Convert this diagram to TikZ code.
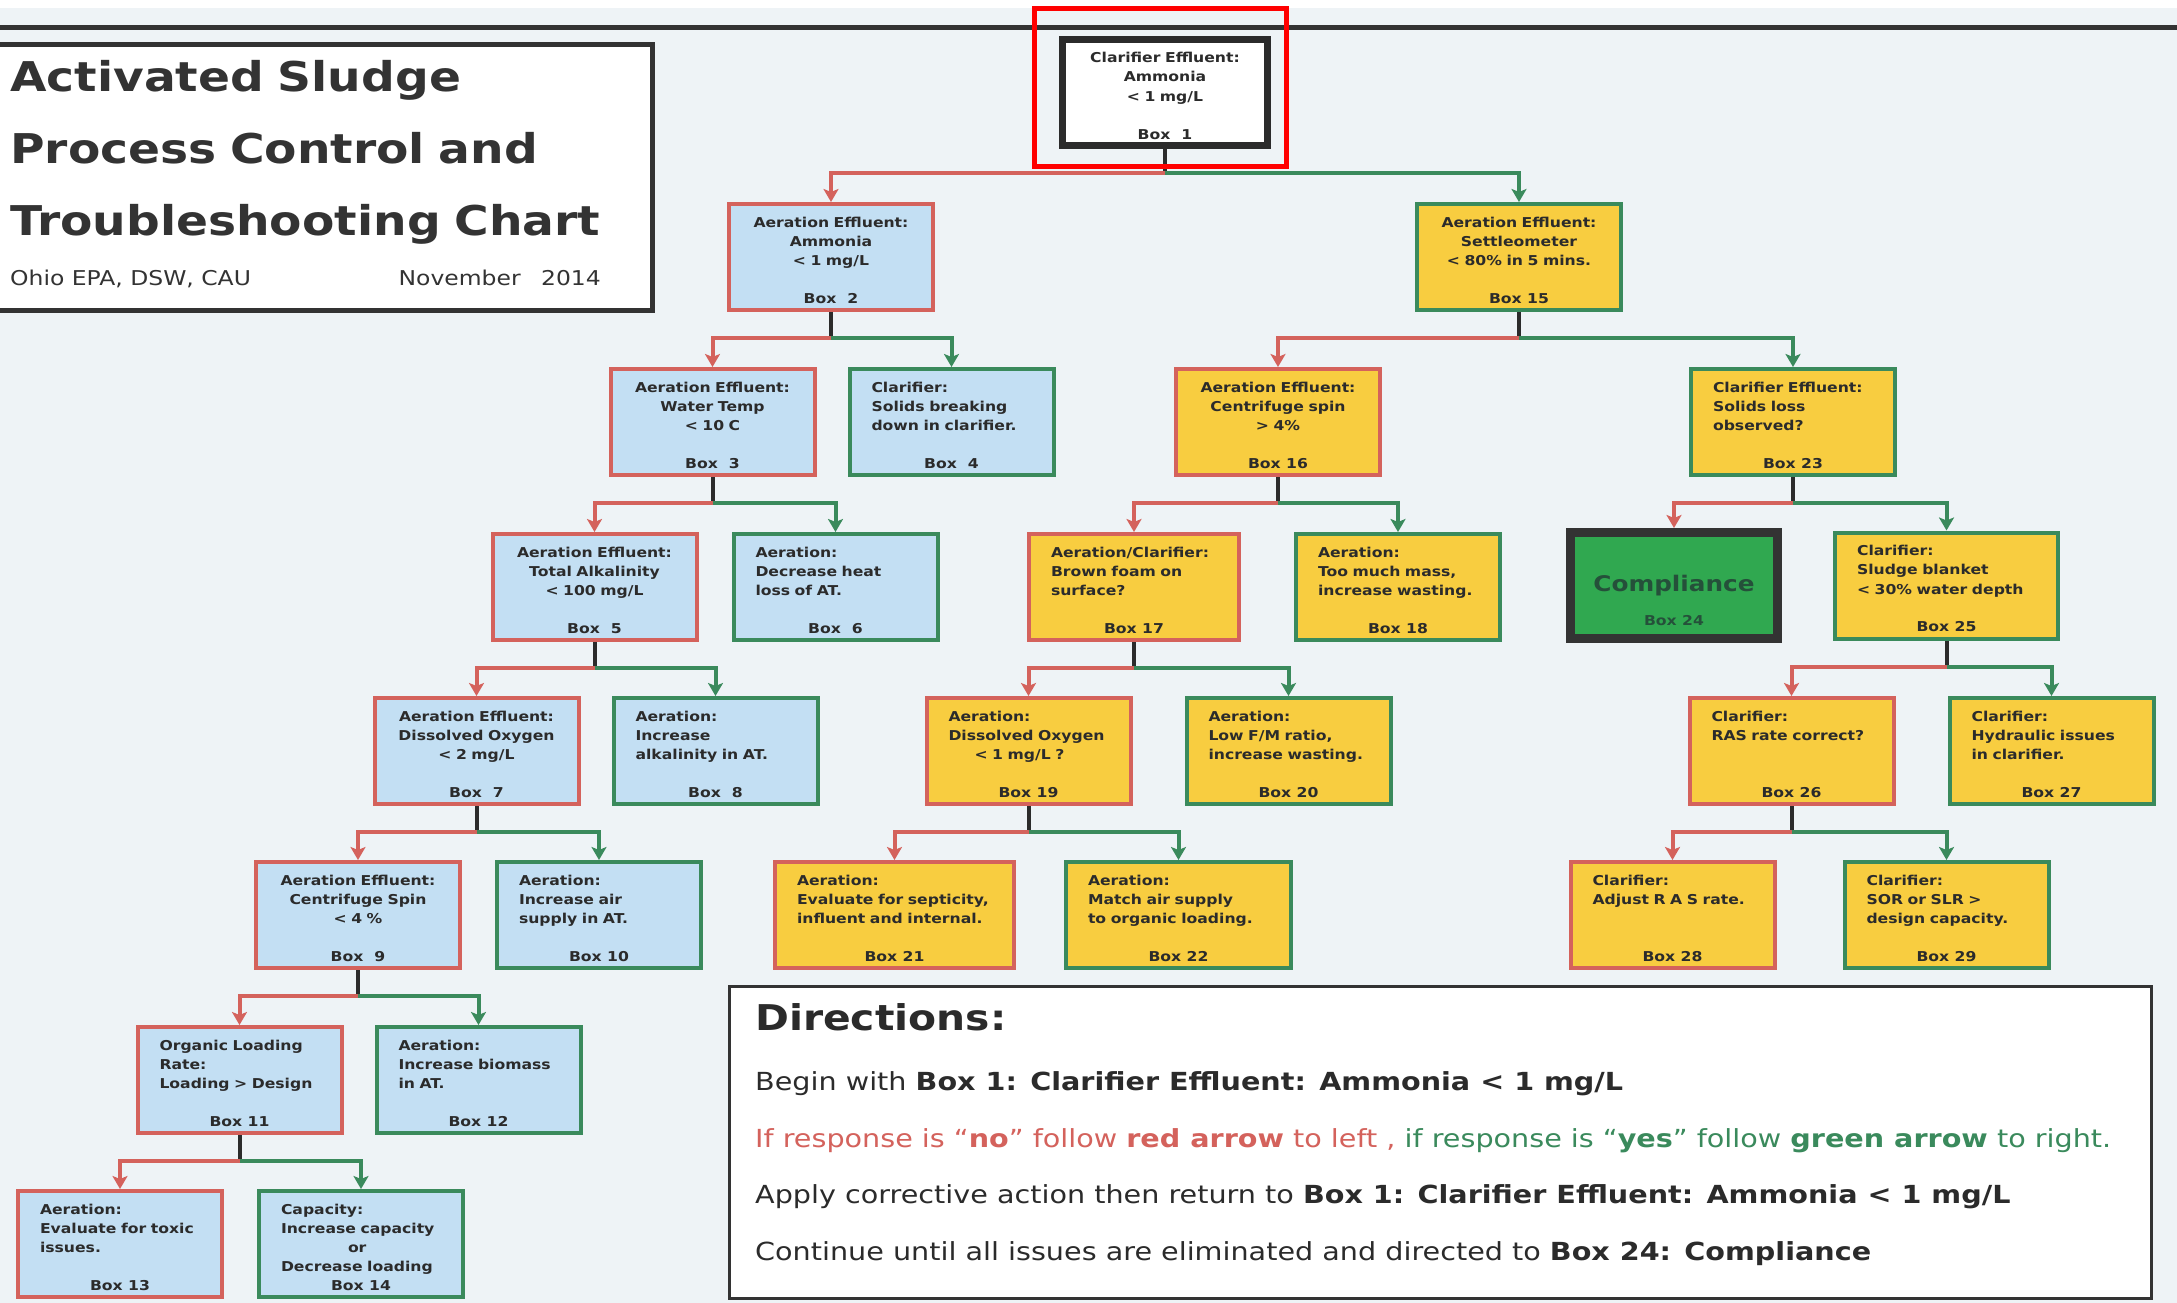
\documentclass[tikz,border=0pt]{standalone}
\usepackage{fontspec}
\setmainfont{DejaVu Sans}[FakeStretch=1.15]
\usetikzlibrary{arrows.meta, positioning}
\definecolor{chartBg}{HTML}{EEF3F6}
\definecolor{chartBlue}{HTML}{C3DFF3}
\definecolor{chartYellow}{HTML}{F8CD40}
\definecolor{chartRed}{HTML}{D4625C}
\definecolor{chartGreen}{HTML}{3A8A5C}
\definecolor{chartInk}{HTML}{2B2B2B}
\definecolor{chartFrame}{HTML}{333333}
\definecolor{chartPass}{HTML}{30A850}
\definecolor{chartPassInk}{HTML}{25503A}
\newcommand{\chartfont}{\bfseries\fontsize{13.6pt}{19.3pt}\selectfont}

\begin{document}
\begin{tikzpicture}[x=1pt, y=-1pt,
  qbox/.style={line width=4pt, text width=160pt, text height=13pt, text depth=73pt,
    inner xsep=22pt, inner ysep=10pt, font=\chartfont, text=chartInk},
  nobox/.style={qbox, draw=chartRed},
  yesbox/.style={qbox, draw=chartGreen},
  sky/.style={fill=chartBlue},
  gold/.style={fill=chartYellow},
  ctr/.style={align=center},
  lft/.style={align=left},
  num/.style={label={[anchor=base, yshift=9pt, text=chartInk, font=\chartfont]south:Box~#1}},
  startbox/.style={qbox, draw=chartInk, line width=7pt, fill=white, text width=161pt, align=center},
  passbox/.style={draw=chartFrame, line width=9pt, fill=chartPass, minimum width=207pt,
    minimum height=106pt, inner sep=0pt, text=chartPassInk,
    font=\bfseries\fontsize{21.5pt}{24pt}\selectfont},
  dirline/.style={anchor=base west, inner sep=0pt, text=chartInk,
    font=\fontsize{24.9pt}{28pt}\selectfont},
  stem/.style={line width=4pt, chartInk},
  noarr/.style={line width=4pt, chartRed, -{Stealth[length=13pt, width=15pt, inset=3pt]}},
  yesarr/.style={line width=4pt, chartGreen, -{Stealth[length=13pt, width=15pt, inset=3pt]}}
]
\useasboundingbox (0,0) rectangle (2177,1303);
\fill[chartBg] (0,0) rectangle (2177,1303);
\fill[white] (0,0) rectangle (2177,8);
\draw[line width=5pt, chartFrame] (0,27.5) -- (2177,27.5);

% title and directions panels
\draw[line width=5pt, draw=chartFrame, fill=white] (-10,44.5) rectangle (652.5,310.5);
\node[anchor=base west, text width=640pt, align=left, inner sep=0pt, text=chartFrame,
  font=\bfseries\fontsize{41pt}{71.7pt}\selectfont] (title) at (10,91.7)
  {Activated Sludge\\Process Control and\\Troubleshooting Chart};
\node[anchor=base west, inner sep=0pt, text=chartFrame, font=\fontsize{20.4pt}{24pt}\selectfont]
  (source) at (10,285) {Ohio EPA, DSW, CAU};
\node[anchor=base east, inner sep=0pt, text=chartFrame, font=\fontsize{20.4pt}{24pt}\selectfont]
  (date) at (601,285) {November\quad 2014};

\draw[line width=3pt, draw=chartFrame, fill=white] (729.5,986.5) rectangle (2151.5,1298.5);
\node[anchor=base west, inner sep=0pt, text=chartInk, font=\bfseries\fontsize{35.5pt}{40pt}\selectfont]
  (dirhead) at (755,1030) {Directions:};
\node[dirline] (dir1) at (755,1090) {Begin with \textbf{Box 1: Clarifier Effluent: Ammonia < 1 mg/L}};
\node[dirline] (dir2) at (755,1147) {\color{chartRed}If response is “\textbf{no}” follow \textbf{red arrow} to left ,
  \color{chartGreen}if response is “\textbf{yes}” follow \textbf{green arrow} to right.};
\node[dirline] (dir3) at (755,1203) {Apply corrective action then return to \textbf{Box 1: Clarifier Effluent: Ammonia < 1 mg/L}};
\node[dirline] (dir4) at (755,1260) {Continue until all issues are eliminated and directed to \textbf{Box 24: Compliance}};

% start box
\node[startbox, num=~1] (b1) at (1165,92.5) {Clarifier Effluent:\\Ammonia\\< 1 mg/L};

% left branch (no)
\node[nobox, sky, ctr, num=~2] (b2) at (831,257) {Aeration Effluent:\\Ammonia\\< 1 mg/L};
\node[nobox, sky, ctr, num=~3] (b3) at (712.5,422) {Aeration Effluent:\\Water Temp\\< 10 C};
\node[yesbox, sky, lft, num=~4, right=31pt of b3] (b4) {Clarifier:\\Solids breaking\\down in clarifier.};
\node[nobox, sky, ctr, num=~5] (b5) at (594.5,587) {Aeration Effluent:\\Total Alkalinity\\< 100 mg/L};
\node[yesbox, sky, lft, num=~6, right=33pt of b5] (b6) {Aeration:\\Decrease heat\\loss of AT.};
\node[nobox, sky, ctr, num=~7] (b7) at (476.5,751) {Aeration Effluent:\\Dissolved Oxygen\\< 2 mg/L};
\node[yesbox, sky, lft, num=~8, right=31pt of b7] (b8) {Aeration:\\Increase\\alkalinity in AT.};
\node[nobox, sky, ctr, num=~9] (b9) at (358,915) {Aeration Effluent:\\Centrifuge Spin\\< 4 \%};
\node[yesbox, sky, lft, num=10, right=33pt of b9] (b10) {Aeration:\\Increase air\\supply in AT.};
\node[nobox, sky, lft, num=11] (b11) at (239.5,1080) {Organic Loading\\Rate:\\Loading > Design};
\node[yesbox, sky, lft, num=12, right=31pt of b11] (b12) {Aeration:\\Increase biomass\\in AT.};
\node[nobox, sky, lft, num=13] (b13) at (120,1244) {Aeration:\\Evaluate for toxic\\issues.};
\node[yesbox, sky, lft, num=14, right=33pt of b13] (b14) {Capacity:\\Increase capacity\\\hspace*{67pt}or\\Decrease loading};

% right branch (yes)
\node[yesbox, gold, ctr, num=15] (b15) at (1519,257) {Aeration Effluent:\\Settleometer\\< 80\% in 5 mins.};
\node[nobox, gold, ctr, num=16] (b16) at (1278,422) {Aeration Effluent:\\Centrifuge spin\\> 4\%};
\node[yesbox, gold, lft, num=23] (b23) at (1793,422) {Clarifier Effluent:\\Solids loss\\observed?};
\node[nobox, gold, lft, num=17, text width=166pt] (b17) at (1134,587) {Aeration/Clarifier:\\Brown foam on\\surface?};
\node[yesbox, gold, lft, num=18, right=53pt of b17] (b18) {Aeration:\\Too much mass,\\increase wasting.};
\node[passbox, label={[anchor=base, yshift=18pt, text=chartPassInk, font=\chartfont]south:Box 24}]
  (b24) at (1674,585.5) {Compliance};
\node[yesbox, gold, lft, num=25, text width=179pt, right=51pt of b24] (b25) {Clarifier:\\Sludge blanket\\< 30\% water depth};
\node[nobox, gold, lft, num=19] (b19) at (1028.5,751) {Aeration:\\Dissolved Oxygen\\\hspace*{26pt}< 1 mg/L ?};
\node[yesbox, gold, lft, num=20, right=52pt of b19] (b20) {Aeration:\\Low F/M ratio,\\increase wasting.};
\node[nobox, gold, lft, num=26] (b26) at (1791.5,751) {Clarifier:\\RAS rate correct?};
\node[yesbox, gold, lft, num=27, right=52pt of b26] (b27) {Clarifier:\\Hydraulic issues\\in clarifier.};
\node[nobox, gold, lft, num=21, text width=195pt] (b21) at (894.5,915) {Aeration:\\Evaluate for septicity,\\influent and internal.};
\node[yesbox, gold, lft, num=22, text width=181pt, right=48pt of b21] (b22) {Aeration:\\Match air supply\\to organic loading.};
\node[nobox, gold, lft, num=28] (b28) at (1672.5,915) {Clarifier:\\Adjust R A S rate.};
\node[yesbox, gold, lft, num=29, right=66pt of b28] (b29) {Clarifier:\\SOR or SLR >\\design capacity.};

% connectors
\draw[stem] (b1.south) -- ++(0,24) coordinate (j1);
\draw[noarr] (j1) -| (b2.north);
\draw[yesarr] (j1) -| (b15.north);
\draw[stem] (b2.south) -- ++(0,26) coordinate (j2);
\draw[noarr] (j2) -| (b3.north);
\draw[yesarr] (j2) -| (b4.north);
\draw[stem] (b3.south) -- ++(0,26) coordinate (j3);
\draw[noarr] (j3) -| (b5.north);
\draw[yesarr] (j3) -| (b6.north);
\draw[stem] (b5.south) -- ++(0,26) coordinate (j5);
\draw[noarr] (j5) -| (b7.north);
\draw[yesarr] (j5) -| (b8.north);
\draw[stem] (b7.south) -- ++(0,26) coordinate (j7);
\draw[noarr] (j7) -| (b9.north);
\draw[yesarr] (j7) -| (b10.north);
\draw[stem] (b9.south) -- ++(0,26) coordinate (j9);
\draw[noarr] (j9) -| (b11.north);
\draw[yesarr] (j9) -| (b12.north);
\draw[stem] (b11.south) -- ++(0,26) coordinate (j11);
\draw[noarr] (j11) -| (b13.north);
\draw[yesarr] (j11) -| (b14.north);
\draw[stem] (b15.south) -- ++(0,26) coordinate (j15);
\draw[noarr] (j15) -| (b16.north);
\draw[yesarr] (j15) -| (b23.north);
\draw[stem] (b16.south) -- ++(0,26) coordinate (j16);
\draw[noarr] (j16) -| (b17.north);
\draw[yesarr] (j16) -| (b18.north);
\draw[stem] (b17.south) -- ++(0,26) coordinate (j17);
\draw[noarr] (j17) -| (b19.north);
\draw[yesarr] (j17) -| (b20.north);
\draw[stem] (b19.south) -- ++(0,26) coordinate (j19);
\draw[noarr] (j19) -| (b21.north);
\draw[yesarr] (j19) -| (b22.north);
\draw[stem] (b23.south) -- ++(0,26) coordinate (j23);
\draw[noarr] (j23) -| (b24.north);
\draw[yesarr] (j23) -| (b25.north);
\draw[stem] (b25.south) -- ++(0,26) coordinate (j25);
\draw[noarr] (j25) -| (b26.north);
\draw[yesarr] (j25) -| (b27.north);
\draw[stem] (b26.south) -- ++(0,26) coordinate (j26);
\draw[noarr] (j26) -| (b28.north);
\draw[yesarr] (j26) -| (b29.north);

% highlight round the start box
\draw[line width=5pt, red] (1034.5,8.5) rectangle (1286.5,166.5);
\end{tikzpicture}
\end{document}
